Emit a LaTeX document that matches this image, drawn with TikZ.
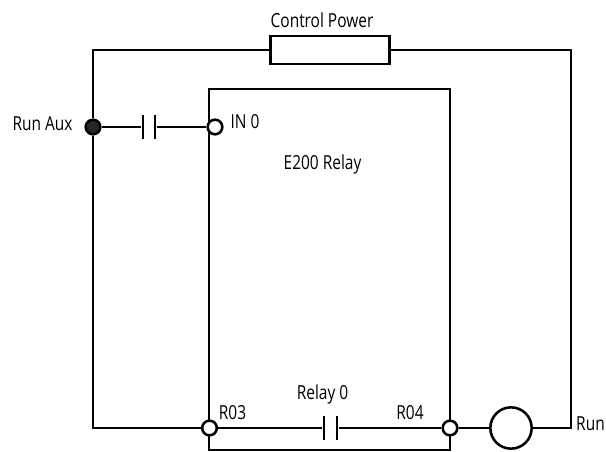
\documentclass[tikz,border=0pt]{standalone}
\usepackage{fontspec}
\setmainfont[FakeStretch=0.8]{Open Sans}
\usepackage{xcolor}
\usepackage{tikz}

\tikzset{
  wire/.style={line width=1.9pt},
  pin/.style={circle, draw, line width=1.9pt, fill=white, minimum size=11pt, inner sep=0pt},
  plate/.style={rectangle, fill=black, minimum width=1.9pt, minimum height=18pt, inner sep=0pt},
  lbl/.style={inner sep=0pt, font=\fontsize{14.5}{16}\selectfont}
}

\begin{document}
\begin{tikzpicture}[x=0.75pt, y=-0.75pt]
\useasboundingbox (0,0) rectangle (606,452);
\node[rectangle, draw, wire, minimum width=89pt, minimum height=21pt, inner sep=0pt] (power) at (330,50) {};
\node[rectangle, draw, wire, minimum width=181pt, minimum height=271pt, inner sep=0pt] (relay) at (329.5,269.5) {};
\node[pin, fill=black!85] (aux) at (93,127) {};
\node[pin] (in0) at (215,127) {};
\node[pin] (r03) at (209.5,428) {};
\node[pin] (r04) at (450,428) {};
\node[pin, minimum size=31pt] (coil) at (511,428) {};
\node[plate] (auxa) at (143,127) {};
\node[plate] (auxb) at (155,127) {};
\node[plate] (rela) at (324,428) {};
\node[plate] (relb) at (337,428) {};
\coordinate (runpt) at (571,428);
\draw[wire] (aux) |- (power.west);
\draw[wire] (power.east) -| (runpt) -- (coil);
\draw[wire] (aux) -- (auxa);
\draw[wire] (auxb) -- (in0);
\draw[wire] (aux) |- (r03);
\draw[wire] (r03) -- (rela);
\draw[wire] (relb) -- (r04);
\draw[wire] (r04) -- (coil);
\node[lbl] (powerlbl) at (322,20) {Control Power};
\node[lbl] (auxlbl) at (42.5,124) {Run Aux};
\node[lbl] (in0lbl) at (245,122) {IN 0};
\node[lbl] (relaylbl) at (322.5,164) {E200 Relay};
\node[lbl] (rel0lbl) at (322.5,394) {Relay 0};
\node[lbl] (r03lbl) at (232.5,413) {R03};
\node[lbl] (r04lbl) at (410,413) {R04};
\node[lbl] (runlbl) at (590.5,424) {Run};
\end{tikzpicture}
\end{document}
